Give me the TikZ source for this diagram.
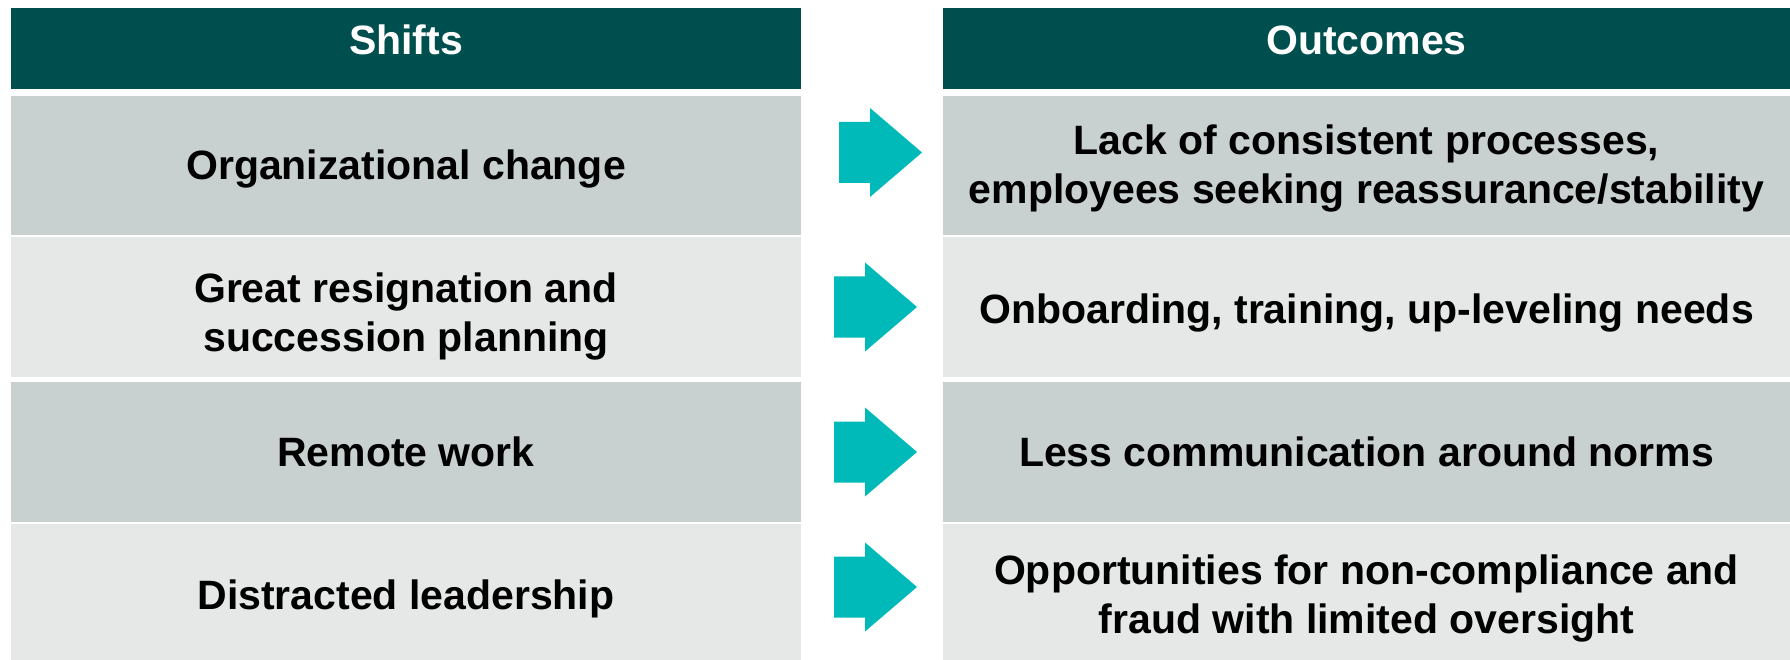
\documentclass[tikz,border=0pt]{standalone}
\usepackage{fontspec}
\setmainfont{Liberation Sans}
\definecolor{headteal}{RGB}{0,79,79}
\definecolor{rowdark}{RGB}{201,208,208}
\definecolor{rowlight}{RGB}{229,232,231}
\definecolor{arrowteal}{RGB}{0,185,185}
% two centred lines whose baseline is that of the first line
\newcommand\twolines[2]{\vtop{\halign{\hfil##\hfil\cr #1\cr #2\cr}}}
\tikzset{
  box/.style={inner sep=0pt, minimum width=790pt},
  rbox/.style={box, minimum width=847pt},
  headbox/.style={fill=headteal, minimum height=80.5pt},
  darkrow/.style={fill=rowdark},
  lightrow/.style={fill=rowlight},
  label text/.style={inner sep=0pt, anchor=base,
    font=\fontsize{41}{49}\selectfont\bfseries, text=black},
  head text/.style={label text, text=white},
  rarrow/.pic={
    \fill[arrowteal] (0,-30.5) -- (31,-30.5) -- (31,-44.5) -- (83,0)
      -- (31,44.5) -- (31,30.5) -- (0,30.5) -- cycle;
  }
}
\begin{document}
\begin{tikzpicture}[x=1pt,y=-1pt]
\useasboundingbox[fill=white] (0,0) rectangle (1790,660);

% column backgrounds
\node[box, headbox] (hsbox) at (406,48.75) {};
\node[rbox, headbox] (hobox) at (1366.5,48.75) {};
\node[box, darkrow, minimum height=139pt] (s1box) at (406,165.5) {};
\node[box, lightrow, minimum height=140pt] (s2box) at (406,307) {};
\node[box, darkrow, minimum height=140.5pt] (s3box) at (406,451.75) {};
\node[box, lightrow, minimum height=135.5pt] (s4box) at (406,591.75) {};
\node[rbox, darkrow, minimum height=139pt] (o1box) at (1366.5,165.5) {};
\node[rbox, lightrow, minimum height=140pt] (o2box) at (1366.5,307) {};
\node[rbox, darkrow, minimum height=140.5pt] (o3box) at (1366.5,451.75) {};
\node[rbox, lightrow, minimum height=135.5pt] (o4box) at (1366.5,591.75) {};

% headings
\node[head text] (hs) at (406,55) {Shifts};
\node[head text] (ho) at (1366.5,55) {Outcomes};

% shifts
\node[label text] (s1) at (406,180) {Organizational change};
\node[label text] (s2) at (406,302.7) {\twolines{Great resignation and}{succession planning}};
\node[label text] (s3) at (406,466.7) {Remote work};
\node[label text] (s4) at (406,609.3) {Distracted leadership};

% outcomes
\node[label text] (o1) at (1366.5,155) {\twolines{Lack of consistent processes,}{employees seeking reassurance/stability}};
\node[label text] (o2) at (1366.5,323.3) {Onboarding, training, up-leveling needs};
\node[label text] (o3) at (1366.5,466.7) {Less communication around norms};
\node[label text] (o4) at (1366.5,584.3) {\twolines{Opportunities for non-compliance and}{fraud with limited oversight}};

% block arrows between the columns
\pic (a1) at (839,152.5) {rarrow};
\pic (a2) at (834,307) {rarrow};
\pic (a3) at (834,452) {rarrow};
\pic (a4) at (834,587) {rarrow};
\end{tikzpicture}
\end{document}
